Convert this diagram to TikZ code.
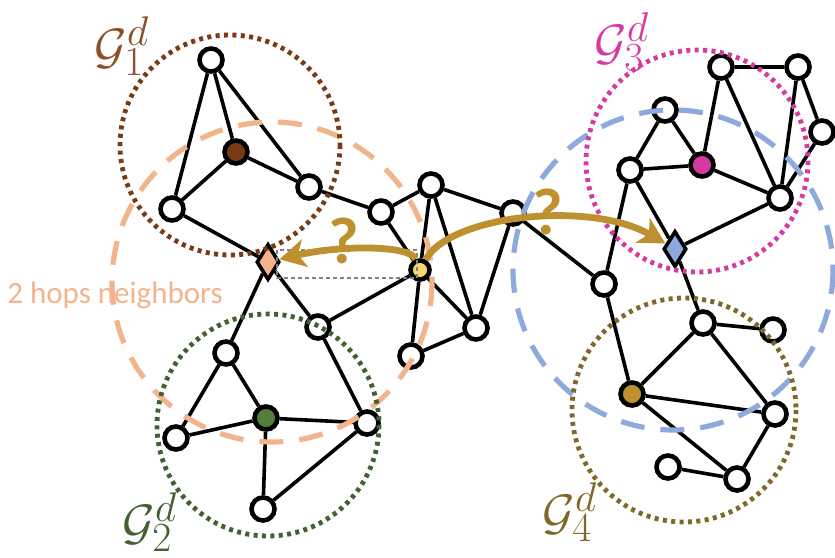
\documentclass[tikz,border=0pt]{standalone}
\usepackage{fontspec}
\newfontfamily\hopfont{Carlito}
\usetikzlibrary{arrows.meta, shapes.geometric}

\definecolor{brownc}{RGB}{122,58,20}
\definecolor{brownl}{RGB}{139,80,42}
\definecolor{peach}{RGB}{242,180,140}
\definecolor{greenc}{RGB}{66,96,48}
\definecolor{greenf}{RGB}{84,126,58}
\definecolor{magc}{RGB}{214,58,160}
\definecolor{bluec}{RGB}{142,169,219}
\definecolor{olivec}{RGB}{127,104,40}
\definecolor{goldc}{RGB}{191,144,48}
\definecolor{yelc}{RGB}{246,214,110}

\begin{document}
\begin{tikzpicture}[
        x=0.5pt, y=-0.5pt,
        vtx/.style={circle, draw, line width=2.3pt, fill=white, minimum size=11.5pt, inner sep=0pt},
        dia/.style={diamond, draw, line width=1.8pt, minimum width=11.5pt, minimum height=18pt, inner sep=0pt},
        edge/.style={line width=1.8pt},
        hop/.style={line width=2.6pt, dash pattern=on 12pt off 8pt},
        sub/.style={line width=2.4pt, dash pattern=on 2pt off 2.2pt},
        ask/.style={-{Stealth[length=13pt, width=14pt, inset=3.5pt]}, line width=3.4pt, draw=goldc},
        lbl/.style={font=\fontsize{31}{33}\selectfont}
    ]
    \useasboundingbox (0,0) rectangle (835,557);

    % cluster 1
    \node (a1) [vtx] at (211,60) {};
    \node (a2) [vtx, fill=brownc] at (236,152) {};
    \node (a3) [vtx] at (172,209) {};
    \node (a4) [vtx] at (309,187) {};
    \node (dl) [dia, fill=peach] at (268,262) {};

    % middle
    \node (b1) [vtx] at (381,212) {};
    \node (b2) [vtx] at (431,185) {};
    \node (b3) [vtx] at (513,213) {};
    \node (yel) [vtx, fill=yelc, minimum size=9.5pt] at (420,270) {};
    \node (b4) [vtx] at (318,327) {};
    \node (b5) [vtx] at (476,328) {};
    \node (b6) [vtx] at (411,356) {};

    % cluster 2
    \node (c1) [vtx] at (226,353) {};
    \node (c2) [vtx, fill=greenf] at (266,418) {};
    \node (c3) [vtx] at (176,438) {};
    \node (c4) [vtx] at (367,423) {};
    \node (c5) [vtx] at (263,509) {};

    % cluster 3
    \node (d1) [vtx] at (721,67) {};
    \node (d2) [vtx] at (798,67) {};
    \node (d3) [vtx] at (665,110) {};
    \node (d4) [vtx] at (822,132) {};
    \node (d5) [vtx, fill=magc] at (702,165) {};
    \node (d6) [vtx] at (630,170) {};
    \node (d7) [vtx] at (780,198) {};
    \node (dr) [dia, fill=bluec] at (675,249) {};

    % cluster 4
    \node (e1) [vtx] at (604,284) {};
    \node (e2) [vtx] at (703,323) {};
    \node (f1) [vtx, fill=goldc] at (632,394) {};
    \node (f2) [vtx] at (773,330) {};
    \node (f3) [vtx] at (775,414) {};
    \node (f4) [vtx] at (668,467) {};
    \node (f5) [vtx] at (737,479) {};

    \foreach \u/\v in {a1/a3, a1/a2, a1/a4, a2/a3, a2/a4, a3/dl, a4/b1,
        b1/b2, b1/yel, b2/b3, b2/yel, b2/b5, b3/b5, b3/e1, yel/b4, yel/b5, yel/b6, b5/b6,
        dl/c1, dl/b4, b4/c4, c1/c3, c1/c2, c3/c2, c2/c4, c2/c5, c5/c4,
        d1/d2, d1/d5, d1/d7, d2/d7, d2/d4, d4/d7, d3/d6, d3/d5, d6/d5, d5/d7, d6/dr, d7/dr,
        e1/d6, e1/f1, dr/e2, e2/f1, e2/f2, e2/f3, f1/f3, f1/f5, f3/f5, f4/f5}
        \draw[edge] (\u) -- (\v);

    % neighbourhoods
    \draw[hop, peach] (272,282) circle (160);
    \draw[hop, bluec] (673,270) circle (160);
    \draw[sub, brownc] (230,145) circle (110);
    \draw[sub, greenc] (268,425) circle (111);
    \draw[sub, magc] (697,161) circle (111);
    \draw[sub, olivec] (684,410) circle (112);

    \draw[gray, line width=0.6pt, dash pattern=on 2pt off 1.5pt] (277,250) rectangle (417,278);

    \draw[ask] (yel) .. controls (410,245) and (340,245) .. (dl);
    \draw[ask] (yel) .. controls (450,215) and (590,200) .. (dr);

    \node (q1) [goldc, font=\hopfont\bfseries\fontsize{33}{35}\selectfont] at (344,241) {?};
    \node (q2) [goldc, font=\hopfont\bfseries\fontsize{33}{35}\selectfont] at (548,212) {?};

    \node (hops) [peach, font=\hopfont\fontsize{15.5}{17}\selectfont] at (115,295) {2 hops neighbors};

    \node (g1) [lbl, brownl] at (122,46) {$\mathcal{G}_1^d$};
    \node (g2) [lbl, greenc] at (150,522) {$\mathcal{G}_2^d$};
    \node (g3) [lbl, magc] at (622,42) {$\mathcal{G}_3^d$};
    \node (g4) [lbl, olivec] at (570,512) {$\mathcal{G}_4^d$};
\end{tikzpicture}
\end{document}
